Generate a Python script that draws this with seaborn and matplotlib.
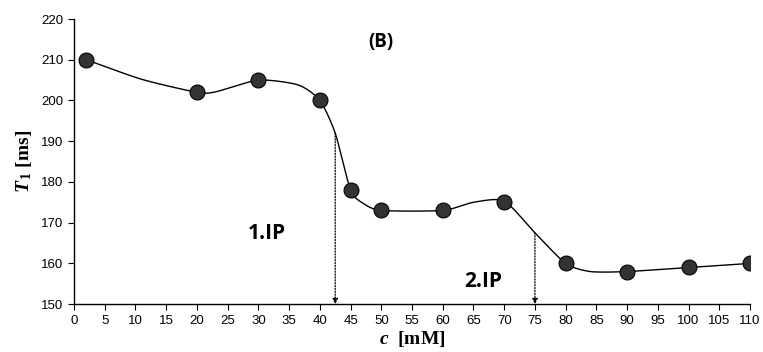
import numpy as np
import pandas as pd
import matplotlib
matplotlib.use("Agg")
import matplotlib.pyplot as plt
import seaborn as sns

# measured points (markers)
conc = [2, 20, 30, 40, 45, 50, 60, 70, 80, 90, 100, 110]
t1 = [210, 202, 205, 200, 178, 173, 173, 175, 160, 158, 159, 160]

# smoothed trend line knots
curve_x = [2, 11, 20, 23, 30, 36.5, 40, 42.5, 45, 47, 50, 60, 65, 70, 75, 80, 84, 90, 100, 110]
curve_y = [210, 205.2, 202, 202.1, 205, 203.8, 200, 192, 178, 174.8, 173, 173, 175, 175.3, 167.5, 160, 158, 158, 159, 160]

# inflection points
ip_x = [42.5, 75]
ip_y = [192, 167.5]
ip_labels = ["1.IP", "2.IP"]
ip_label_x = [31.3, 66.5]
ip_label_y = [167.3, 155.5]

x_ticks = list(range(0, 111, 5))
y_ticks = list(range(150, 221, 10))


def cardinal(xs, ys, n=24, k=0.35):
    p = np.column_stack([xs, ys]).astype(float)
    p = np.vstack([p[0] - (p[1] - p[0]), p, p[-1] + (p[-1] - p[-2])])
    out = []
    for i in range(1, len(p) - 2):
        p0, p1, p2, p3 = p[i - 1], p[i], p[i + 1], p[i + 2]
        m1 = k * (p2 - p0)
        m2 = k * (p3 - p1)
        t = np.linspace(0, 1, n, endpoint=False)[:, None]
        h00 = 2 * t ** 3 - 3 * t ** 2 + 1
        h10 = t ** 3 - 2 * t ** 2 + t
        h01 = -2 * t ** 3 + 3 * t ** 2
        h11 = t ** 3 - t ** 2
        out.append(h00 * p1 + h10 * m1 + h01 * p2 + h11 * m2)
    out.append(p[-2][None, :])
    out = np.vstack(out)
    return out[:, 0], out[:, 1]


sns.set_style("ticks")
plt.rcParams["font.family"] = ["Liberation Sans", "DejaVu Sans"]
plt.rcParams["text.color"] = "black"
plt.rcParams["axes.labelcolor"] = "black"
plt.rcParams["mathtext.fontset"] = "custom"
plt.rcParams["mathtext.rm"] = "Liberation Serif:bold"
plt.rcParams["mathtext.it"] = "Liberation Serif:italic:bold"
plt.rcParams["mathtext.bf"] = "Liberation Serif:bold"

fig = plt.figure(figsize=(7.63, 3.52), dpi=100)
ax = fig.add_axes([0.097, 0.136, 0.886, 0.81])

sx, sy = cardinal(curve_x, curve_y)
smooth = pd.DataFrame({"c": sx, "T1": sy})
sns.lineplot(data=smooth, x="c", y="T1", sort=False, color="black", linewidth=1.0, ax=ax, zorder=2)

pts = pd.DataFrame({"c": conc, "T1": t1})
sns.scatterplot(data=pts, x="c", y="T1", s=115, color="#333333", edgecolor="black",
                linewidth=0.8, ax=ax, zorder=3)

for xi, yi in zip(ip_x, ip_y):
    ax.annotate("", xy=(xi, 150), xytext=(xi, yi),
                arrowprops=dict(arrowstyle="-|>", linestyle=(0, (1, 1.3)), color="black",
                                lw=0.9, mutation_scale=8, shrinkA=0, shrinkB=0))

for lx, ly, lab in zip(ip_label_x, ip_label_y, ip_labels):
    ax.text(lx, ly, lab, ha="center", va="center", fontsize=15, fontweight="bold",
            color="black", family=["Open Sans", "DejaVu Sans"])

ax.text(50, 214.4, "(B)", ha="center", va="center", fontsize=13.5, fontweight="bold",
        color="black", family=["Open Sans", "DejaVu Sans"])

ax.set_xlim(0, 110)
ax.set_ylim(150, 220)
ax.set_xticks(x_ticks)
ax.set_yticks(y_ticks)
ax.tick_params(axis="both", labelsize=9.5, length=4, width=0.8, colors="black", direction="out")
for s in ["left", "bottom"]:
    ax.spines[s].set_linewidth(1.0)
    ax.spines[s].set_color("black")
sns.despine(ax=ax)

ax.set_xlabel(r"$\mathit{c}$  [mM]", fontsize=14, fontweight="bold", family="Liberation Serif",
              labelpad=2, color="black")
ax.set_ylabel(r"$\mathit{T}_{\,\mathregular{1}}$ [ms]", fontsize=14, fontweight="bold",
              family="Liberation Serif", labelpad=5, color="black")

fig.savefig("out.png", dpi=100)
